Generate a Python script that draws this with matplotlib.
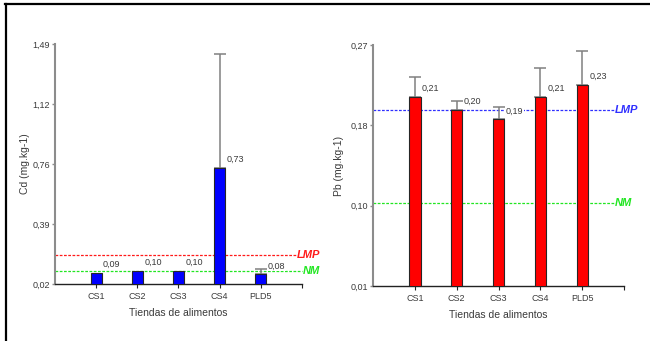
import matplotlib
matplotlib.use("Agg")
import matplotlib.pyplot as plt
import numpy as np

plt.rcParams["font.family"] = ["Liberation Sans", "DejaVu Sans"]

# ---------- data ----------
stores = ["CS1", "CS2", "CS3", "CS4", "PLD5"]

cd_mean = [0.09, 0.10, 0.10, 0.73, 0.08]
cd_err = [0.0, 0.0, 0.0, 0.70, 0.03]
cd_ticks = [0.02, 0.3875, 0.755, 1.1225, 1.49]
cd_ticklabels = ["0,02", "0,39", "0,76", "1,12", "1,49"]
cd_lmp = 0.20
cd_nm = 0.10

pb_mean = [0.214, 0.20, 0.19, 0.214, 0.227]
pb_err = [0.022, 0.010, 0.013, 0.031, 0.037]
pb_ticks = [0.01, 0.0967, 0.1833, 0.27]
pb_ticklabels = ["0,01", "0,10", "0,18", "0,27"]
pb_lmp = 0.20
pb_nm = 0.10

TXT = "#3a3a3a"; AXGREY = "#8c8c8c"; ERRGREY = "#808080"; NMGREEN = "#22e622"


def panel(ax, means, errs, color, ticks, ticklabels, ylabel,
          lmp, nm, lmp_color, lmp_end, nm_end, ypad):
    x = np.arange(len(stores))
    w = 0.27
    ax.bar(x, means, w, color=color, edgecolor="#262626", linewidth=0.8, zorder=3)
    errs = np.asarray(errs)
    m = errs > 0
    ax.errorbar(x[m], np.asarray(means)[m], yerr=[np.zeros(m.sum()), errs[m]],
                fmt="none", ecolor=ERRGREY, elinewidth=1.1, capsize=4.3,
                capthick=1.1, zorder=2)

    # value labels, written next to the top right corner of each bar
    for xi, v in zip(x, means):
        ax.annotate(f"{v:.2f}".replace(".", ","), (xi + w / 2, v),
                    xytext=(1, 6), textcoords="offset points",
                    ha="left", va="center", fontsize=6.5, color=TXT, zorder=4,
                    bbox=dict(fc="white", ec="none", pad=0.3))

    # reference lines
    ax.plot([-1, lmp_end], [lmp, lmp], color=lmp_color, lw=0.9,
            linestyle=(0, (2.2, 1.2)), zorder=1, clip_on=False)
    ax.plot([-1, nm_end], [nm, nm], color=NMGREEN, lw=0.9,
            linestyle=(0, (2.2, 1.2)), zorder=1, clip_on=False)
    ax.text(lmp_end, lmp, "LMP", color=lmp_color, fontsize=8,
            fontweight="bold", style="italic", ha="left", va="center")
    ax.text(nm_end + 0.02, nm, "NM", color=NMGREEN, fontsize=8,
            fontweight="bold", style="italic", ha="left", va="center")

    ax.set_xlim(-1, 5)
    ax.set_ylim(ticks[0], ticks[-1])
    ax.set_yticks(ticks)
    ax.set_yticklabels(ticklabels, fontsize=6.5, color=TXT)
    ax.set_xticks(x)
    ax.set_xticklabels(stores, fontsize=6.5, color=TXT)
    ax.set_xticks([5], minor=True)
    ax.tick_params(axis="y", length=2.5, width=1, color=AXGREY, pad=1)
    ax.tick_params(axis="x", which="both", length=3, width=0.8, color="#222222", pad=3)
    ax.spines["top"].set_visible(False); ax.spines["right"].set_visible(False)
    ax.spines["left"].set_color(AXGREY); ax.spines["left"].set_linewidth(1.5)
    ax.spines["bottom"].set_color("#222222"); ax.spines["bottom"].set_linewidth(1.0)
    ax.set_xlabel("Tiendas de alimentos", fontsize=7.5, color=TXT, labelpad=5)
    ax.set_ylabel(ylabel, fontsize=7.5, color=TXT, labelpad=ypad)


fig = plt.figure(figsize=(6.5, 3.41), dpi=100)
ax1 = fig.add_axes([0.0846, 0.167, 0.38, 0.704])
ax2 = fig.add_axes([0.574, 0.161, 0.386, 0.707])

panel(ax1, cd_mean, cd_err, "#0000ff", cd_ticks, cd_ticklabels, "Cd (mg.kg-1)",
      cd_lmp, cd_nm, "#ff1a1a", 4.87, 5.0, 2)
panel(ax2, pb_mean, pb_err, "#ff0000", pb_ticks, pb_ticklabels, "Pb (mg.kg-1)",
      pb_lmp, pb_nm, "#3030ff", 4.79, 4.77, 4.5)

# black frame along the top and left edges
fig.add_artist(plt.Line2D([0.008, 1.0], [0.987, 0.987], color="black", lw=1.6,
                          transform=fig.transFigure))
fig.add_artist(plt.Line2D([0.009, 0.009], [0.0, 0.987], color="black", lw=1.6,
                          transform=fig.transFigure))

fig.savefig("out.png", dpi=100, facecolor="white")
